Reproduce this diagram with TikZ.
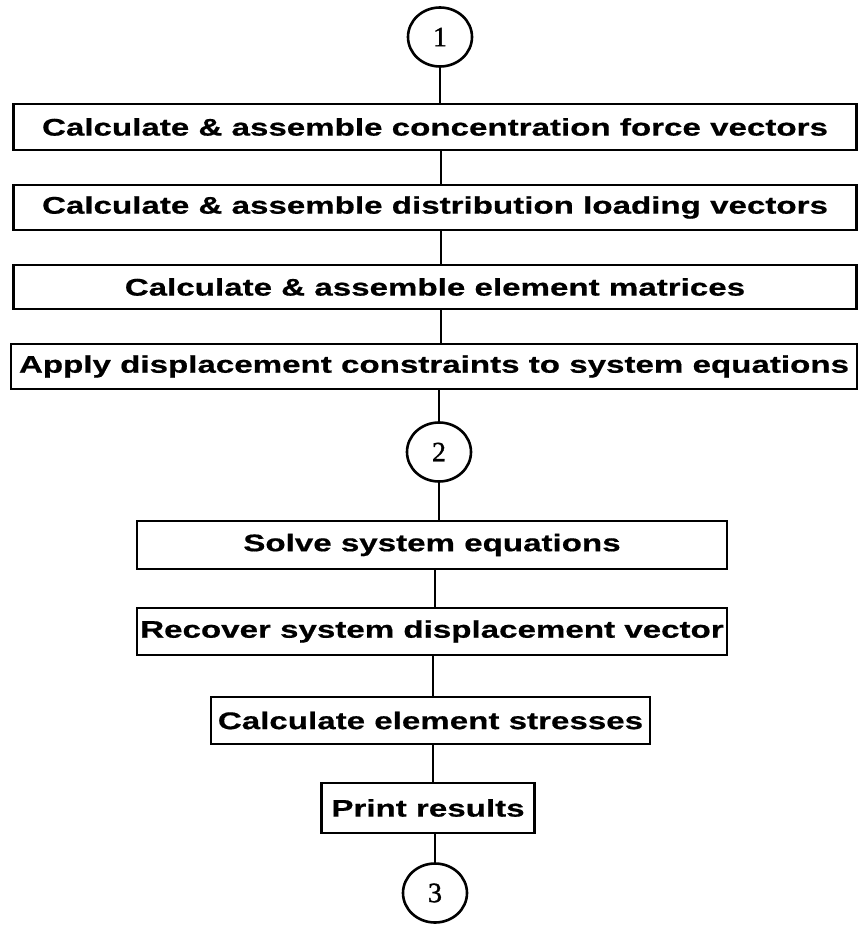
\documentclass[tikz,border=0pt]{standalone}
\usepackage{fontspec}
\usetikzlibrary{shapes.geometric}
\newfontfamily\boxfont[FakeStretch=1.38,BoldFeatures={FakeBold=0.6}]{Liberation Sans}
\newfontfamily\numfont[FakeBold=1.2]{Liberation Serif}
\begin{document}
\begin{tikzpicture}[x=1pt,y=-1pt,
  stepbox/.style={draw, line width=2.6pt, rectangle, inner sep=0pt,
    font=\boxfont\bfseries\fontsize{24}{26}\selectfont},
  conn/.style={draw, ellipse, line width=2.6pt, inner sep=0pt,
    minimum width=64pt, minimum height=59pt,
    font=\numfont\fontsize{28}{30}\selectfont},
  link/.style={line width=2.6pt}]
\useasboundingbox (0,0) rectangle (859,925);
% connector circles
\node[conn] (c1) at (440,37) {1};
\node[conn] (c2) at (439,452) {2};
\node[conn] (c3) at (435,893) {3};
% process steps
\node[stepbox, minimum width=843pt, minimum height=46pt] (b1) at (435,127) {Calculate \& assemble concentration force vectors};
\node[stepbox, minimum width=843pt, minimum height=45pt] (b2) at (435,207.5) {Calculate \& assemble distribution loading vectors};
\node[stepbox, minimum width=843pt, minimum height=44pt] (b3) at (435,287) {Calculate \& assemble element matrices};
\node[stepbox, minimum width=846pt, minimum height=45pt] (b4) at (434,366.5) {Apply displacement constraints to system equations};
\node[stepbox, minimum width=590pt, minimum height=48pt] (b5) at (432,545) {Solve system equations};
\node[stepbox, minimum width=590pt, minimum height=47pt] (b6) at (432,631.5) {Recover system displacement vector};
\node[stepbox, minimum width=439pt, minimum height=47pt] (b7) at (430.5,720.5) {Calculate element stresses};
\node[stepbox, minimum width=213pt, minimum height=50pt] (b8) at (428,808) {Print results};
% vertical links
\coordinate (x1) at (441,0);
\coordinate (x2) at (435,0);
\coordinate (x3) at (433,0);
\draw[link] (c1) -- (c1 |- b1.north);
\draw[link] (b1.south -| x1) -- (b2.north -| x1);
\draw[link] (b2.south -| x1) -- (b3.north -| x1);
\draw[link] (b3.south -| x1) -- (b4.north -| x1);
\draw[link] (b4.south -| c2) -- (c2);
\draw[link] (c2) -- (c2 |- b5.north);
\draw[link] (b5.south -| x2) -- (b6.north -| x2);
\draw[link] (b6.south -| x3) -- (b7.north -| x3);
\draw[link] (b7.south -| x3) -- (b8.north -| x3);
\draw[link] (b8.south -| c3) -- (c3);
\end{tikzpicture}
\end{document}
